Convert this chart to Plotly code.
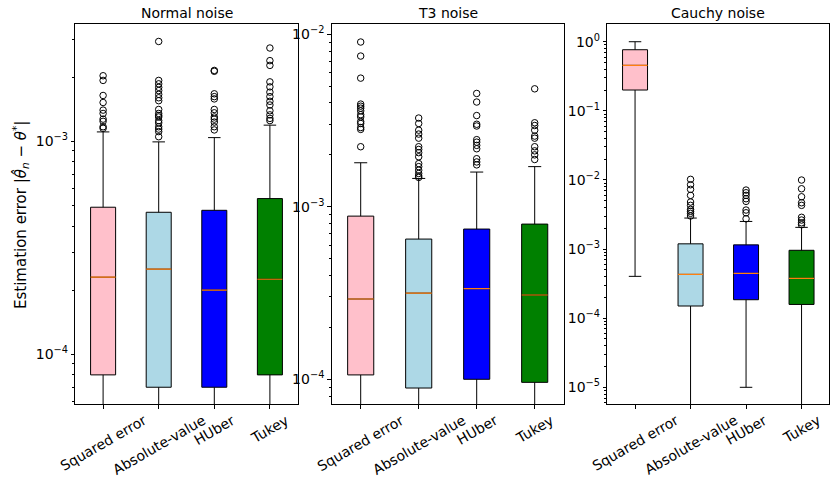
import plotly.graph_objects as go

# ---------------- data ----------------
categories = ["Squared error", "Absolute-value", "HUber", "Tukey"]
box_colors = ["pink", "lightblue", "blue", "green"]
panel_titles = ["Normal noise", "T3 noise", "Cauchy noise"]

normal_q1 = [8.0e-5, 7.0e-5, 7.0e-5, 8.0e-5]
normal_median = [2.30e-4, 2.51e-4, 2.00e-4, 2.25e-4]
normal_q3 = [4.90e-4, 4.64e-4, 4.74e-4, 5.38e-4]
normal_whislo = [3.0e-5, 2.5e-5, 2.5e-5, 3.0e-5]
normal_whishi = [1.106e-3, 0.993e-3, 1.04e-3, 1.19e-3]
normal_fliers = [
    [2.03e-3, 1.93e-3, 1.64e-3, 1.52e-3, 1.40e-3, 1.35e-3, 1.27e-3, 1.24e-3, 1.17e-3, 1.15e-3],
    [2.94e-3, 1.93e-3, 1.86e-3, 1.79e-3, 1.73e-3, 1.66e-3, 1.60e-3, 1.55e-3, 1.41e-3, 1.35e-3,
     1.32e-3, 1.30e-3, 1.25e-3, 1.22e-3, 1.17e-3, 1.14e-3, 1.11e-3, 1.05e-3],
    [2.15e-3, 2.13e-3, 1.67e-3, 1.62e-3, 1.58e-3, 1.41e-3, 1.36e-3, 1.30e-3, 1.27e-3, 1.23e-3,
     1.17e-3, 1.13e-3],
    [2.74e-3, 2.39e-3, 2.27e-3, 1.90e-3, 1.80e-3, 1.70e-3, 1.62e-3, 1.54e-3, 1.48e-3, 1.39e-3,
     1.33e-3, 1.28e-3, 1.25e-3],
]

t3_q1 = [1.06e-4, 8.9e-5, 1.0e-4, 9.6e-5]
t3_median = [2.92e-4, 3.16e-4, 3.35e-4, 3.08e-4]
t3_q3 = [8.83e-4, 6.5e-4, 7.43e-4, 7.94e-4]
t3_whislo = [3.0e-5, 3.0e-5, 3.0e-5, 3.0e-5]
t3_whishi = [1.80e-3, 1.46e-3, 1.59e-3, 1.71e-3]
t3_fliers = [
    [9.02e-3, 7.48e-3, 5.57e-3, 3.94e-3, 3.83e-3, 3.73e-3, 3.60e-3, 3.42e-3, 3.32e-3, 3.12e-3,
     3.04e-3, 2.88e-3, 2.81e-3, 2.23e-3],
    [3.27e-3, 3.04e-3, 2.78e-3, 2.64e-3, 2.50e-3, 2.23e-3, 2.15e-3, 2.06e-3, 1.95e-3, 1.78e-3,
     1.71e-3, 1.63e-3, 1.56e-3, 1.51e-3, 1.48e-3],
    [4.54e-3, 4.05e-3, 3.38e-3, 3.01e-3, 2.94e-3, 2.45e-3, 2.37e-3, 2.27e-3, 2.17e-3, 1.90e-3,
     1.82e-3, 1.75e-3],
    [4.83e-3, 3.07e-3, 2.96e-3, 2.78e-3, 2.57e-3, 2.50e-3, 2.23e-3, 2.11e-3, 2.00e-3, 1.88e-3],
]

cauchy_q1 = [0.2, 1.5e-4, 1.85e-4, 1.58e-4]
cauchy_median = [0.455, 4.3e-4, 4.45e-4, 3.77e-4]
cauchy_q3 = [0.766, 1.19e-3, 1.15e-3, 9.6e-4]
cauchy_whislo = [4.03e-4, 2.0e-6, 1.0e-5, 2.0e-6]
cauchy_whishi = [1.0, 2.81e-3, 2.51e-3, 2.06e-3]
cauchy_fliers = [
    [],
    [1.02e-2, 8.53e-3, 7.31e-3, 5.98e-3, 4.79e-3, 4.29e-3, 3.75e-3, 3.51e-3, 3.29e-3, 3.01e-3],
    [7.14e-3, 6.53e-3, 5.98e-3, 5.35e-3, 4.90e-3, 3.67e-3, 3.35e-3, 2.74e-3],
    [9.97e-3, 7.46e-3, 5.71e-3, 4.68e-3, 4.29e-3, 2.88e-3, 2.63e-3, 2.40e-3, 2.25e-3],
]

# y-axis ranges (log10) and decade ticks
y_ranges = [[-4.235, -2.451], [-4.145, -1.942], [-5.246, 0.252]]
y_decades = [[-4, -3], [-4, -3, -2], [-5, -4, -3, -2, -1, 0]]

panels = [
    (normal_q1, normal_median, normal_q3, normal_whislo, normal_whishi, normal_fliers),
    (t3_q1, t3_median, t3_q3, t3_whislo, t3_whishi, t3_fliers),
    (cauchy_q1, cauchy_median, cauchy_q3, cauchy_whislo, cauchy_whishi, cauchy_fliers),
]

# ---------------- layout constants ----------------
W, H = 839, 483
x_domains = [[75.3 / W, 297.7 / W], [331.7 / W, 563.7 / W], [607.3 / W, 829.3 / W]]
y_domain = [1 - 404.3 / H, 1 - 24.3 / H]
box_width = 0.45
font = "DejaVu Sans"
median_color = "#ff7f0e"

positions = list(range(1, len(categories) + 1))

fig = go.Figure()
layout = dict(
    width=W, height=H,
    margin=dict(l=0, r=0, t=0, b=0),
    paper_bgcolor="white", plot_bgcolor="white",
    showlegend=False, boxmode="overlay",
    font=dict(family=font, size=14, color="black"),
    annotations=[],
)

for p, (q1, med, q3, wlo, whi, fliers) in enumerate(panels):
    sfx = "" if p == 0 else str(p + 1)
    xref, yref = "x" + sfx, "y" + sfx
    for i, cat in enumerate(categories):
        fig.add_trace(go.Box(
            x=[positions[i]], q1=[q1[i]], median=[med[i]], q3=[q3[i]],
            lowerfence=[wlo[i]], upperfence=[whi[i]],
            width=box_width, whiskerwidth=0.5,
            fillcolor=box_colors[i], line=dict(color="black", width=1),
            boxpoints=False, hoverinfo="skip",
            xaxis=xref, yaxis=yref,
        ))
    # orange median lines
    mx, my = [], []
    for i in range(len(categories)):
        mx += [positions[i] - box_width / 2, positions[i] + box_width / 2, None]
        my += [med[i], med[i], None]
    fig.add_trace(go.Scatter(x=mx, y=my, mode="lines",
                             line=dict(color=median_color, width=1.2),
                             hoverinfo="skip", xaxis=xref, yaxis=yref))
    # outliers
    fx, fy = [], []
    for i in range(len(categories)):
        fx += [positions[i]] * len(fliers[i])
        fy += fliers[i]
    fig.add_trace(go.Scatter(x=fx, y=fy, mode="markers",
                             marker=dict(symbol="circle-open", size=6.5, color="black",
                                         line=dict(width=1, color="black")),
                             hoverinfo="skip", xaxis=xref, yaxis=yref))

    dec = y_decades[p]
    minor_vals = [m * 10.0 ** d for d in range(dec[0] - 1, dec[-1] + 1) for m in range(2, 10)]
    layout["xaxis" + sfx] = dict(
        domain=x_domains[p], anchor=yref, range=[0.5, len(categories) + 0.5],
        tickmode="array", tickvals=positions, showticklabels=False,
        ticks="outside", ticklen=3.5, tickwidth=1, tickcolor="black",
        showline=True, mirror=True, linecolor="black", linewidth=1,
        showgrid=False, zeroline=False,
    )
    layout["yaxis" + sfx] = dict(
        domain=y_domain, anchor=xref, type="log", range=y_ranges[p],
        tickmode="array", tickvals=[10.0 ** d for d in dec],
        ticktext=["10<sup>\u2212%d</sup>" % (-d) if d < 0 else "10<sup>%d</sup>" % d for d in dec],
        ticks="outside", ticklen=3.5, tickwidth=1, tickcolor="black",
        tickfont=dict(family=font, size=14, color="black"),
        minor=dict(tickmode="array", tickvals=minor_vals, ticks="outside",
                   ticklen=2, tickwidth=0.8, tickcolor="black", showgrid=False),
        showline=True, mirror=True, linecolor="black", linewidth=1,
        showgrid=False, zeroline=False,
    )
    # subplot title
    layout["annotations"].append(dict(
        text=panel_titles[p], xref="paper", yref="paper",
        x=(x_domains[p][0] + x_domains[p][1]) / 2, y=1 - 13 / H,
        xanchor="center", yanchor="middle", showarrow=False,
        font=dict(family=font, size=14, color="black"),
    ))
    # rotated category labels
    for i, cat in enumerate(categories):
        layout["annotations"].append(dict(
            text=cat, xref=xref, yref="paper", x=positions[i], y=1 - 409 / H,
            xanchor="center", yanchor="top", textangle=-30, showarrow=False,
            font=dict(family=font, size=14, color="black"),
        ))

layout["annotations"].append(dict(
    text="Estimation error |<i>\u03b8\u0302</i><sub><i>n</i></sub> \u2212 <i>\u03b8</i><sup>*</sup>|",
    xref="paper", yref="paper", x=20 / W, y=1 - 215 / H,
    xanchor="center", yanchor="middle", textangle=-90, showarrow=False,
    font=dict(family=font, size=15, color="black"),
))

fig.update_layout(**layout)
fig.write_html("out.html", config={"displayModeBar": False},
               post_script="document.body.style.margin='0';")
